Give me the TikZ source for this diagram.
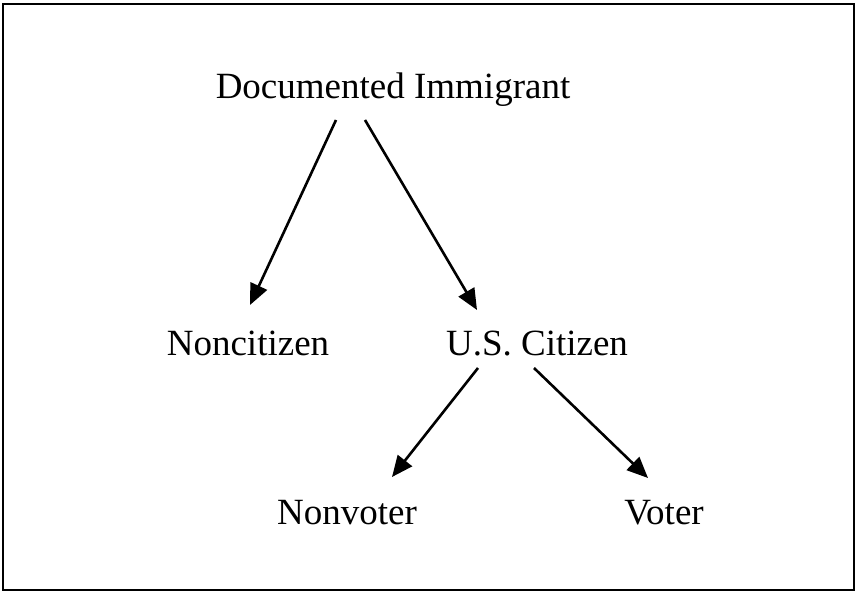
\documentclass[tikz,border=0pt]{standalone}
\usepackage{fontspec}
\setmainfont{Liberation Serif}
\usetikzlibrary{arrows.meta, positioning}
\tikzstyle{arrow} = [line width=1.3pt, -{Triangle[length=10.5pt, width=9pt]}]
\tikzstyle{label} = [inner sep=0pt, anchor=base, font=\fontsize{18.5}{22}\selectfont]

\begin{document}
\begin{tikzpicture}[x=0.5pt, y=-0.5pt]
    \useasboundingbox (0,0) rectangle (856,592);
    \draw[line width=1.2pt] (3,4) rectangle (854,590);
    % tree of categories
    \node[label] (doc) at (393,99) {Documented Immigrant};
    \node[label] (noncit) at (248,356) {Noncitizen};
    \node[label] (cit) at (537,356) {U.S. Citizen};
    \node[label] (nonvote) at (347,524) {Nonvoter};
    \node[label] (vote) at (664,524) {Voter};
    \draw[arrow] ([xshift=-28.5pt, yshift=-10.5pt]doc.base) -- ([xshift=1pt, yshift=25.5pt]noncit.base);
    \draw[arrow] ([xshift=-14pt, yshift=-10.5pt]doc.base) -- ([xshift=-30pt, yshift=23pt]cit.base);
    \draw[arrow] ([xshift=-29.5pt, yshift=-6pt]cit.base) -- ([xshift=22.5pt, yshift=23.5pt]nonvote.base);
    \draw[arrow] ([xshift=-1.5pt, yshift=-6pt]cit.base) -- ([xshift=-8pt, yshift=23pt]vote.base);
\end{tikzpicture}
\end{document}
